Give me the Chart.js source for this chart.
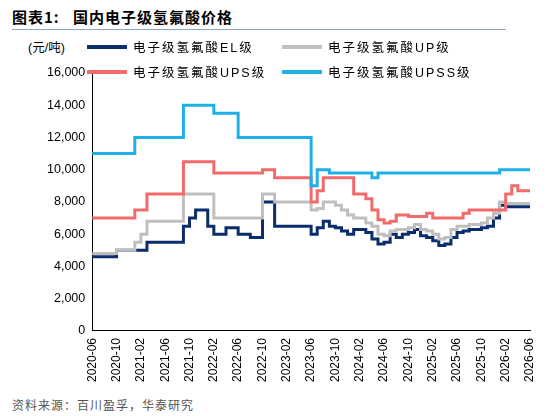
<!DOCTYPE html>
<html><head><meta charset="utf-8">
<script src="https://cdn.jsdelivr.net/npm/chart.js@4"></script>
<style>
body{margin:0;width:550px;height:416px;position:relative;background:#fff;font-family:"Liberation Sans","Noto Sans CJK SC",sans-serif;overflow:hidden}
#wrap{position:absolute;left:0;top:0;width:550px;height:385px}
.t{position:absolute;white-space:nowrap;color:#000}
.leg{position:absolute;font-size:12.5px;letter-spacing:2px;white-space:nowrap;display:flex;align-items:center;font-family:"Liberation Sans","Noto Sans CJK SC",sans-serif}
.leg i{display:inline-block;width:40px;height:4px;margin-right:6px}
</style></head><body>
<div class="t" style="left:12px;top:6px;font-size:15px;font-weight:bold;letter-spacing:1px;font-family:'Noto Sans CJK SC',sans-serif">图表1:&nbsp;&nbsp;&nbsp;国内电子级氢氟酸价格</div>
<div style="position:absolute;left:12px;top:29px;width:494px;height:1px;background:#8fa4bd"></div>
<div class="t" style="left:28px;top:37px;font-size:12.5px">(元/吨)</div>
<div id="wrap"><canvas id="c" width="550" height="385"></canvas></div>
<div class="leg" style="left:87px;top:37px"><i style="background:#0b2d6b"></i>电子级氢氟酸EL级</div>
<div class="leg" style="left:282px;top:37px"><i style="background:#bfbfbf"></i>电子级氢氟酸UP级</div>
<div class="leg" style="left:87px;top:62px"><i style="background:#f26b6b"></i>电子级氢氟酸UPS级</div>
<div class="leg" style="left:282px;top:62px"><i style="background:#1fb0e8"></i>电子级氢氟酸UPSS级</div>
<div class="t" style="left:12px;top:396px;font-size:12px;color:#555;letter-spacing:1px;font-family:'Noto Sans CJK SC',sans-serif">资料来源：百川盈孚，华泰研究</div>
<script>
const months=[];for(let y=2020,m=6;months.length<73;){months.push(y+'-'+String(m).padStart(2,'0'));m++;if(m>12){m=1;y++;}}
const rep=(v,n)=>Array(n).fill(v);
const EL=[...rep(4600,4),...rep(5000,5),...rep(5500,6),6500,7000,7500,7500,6500,6000,6000,6400,6400,6000,6000,5800,5800,8000,8000,...rep(6500,6),
6000,6400,6800,6500,6400,6200,6000,6300,6300,6100,5700,5400,5500,6000,5800,6000,6100,6300,5900,5800,5600,5300,5400,5800,6100,6200,6300,6300,6400,6500,7000,7800,...rep(7700,5)];
const UP=[...rep(4800,4),...rep(5000,3),5500,6000,...rep(6800,6),...rep(8500,5),...rep(7000,8),8500,8500,...rep(8000,6),
7500,7600,8000,8000,7800,7500,7200,7000,7000,6700,6500,6000,5900,6200,6300,6300,6400,6600,6300,6200,6000,5700,5800,6300,6500,6500,6600,6600,6700,7000,7300,8000,...rep(7900,5)];
const UPS=[...rep(7000,7),7500,7500,...rep(8500,6),...rep(10500,5),...rep(9800,8),10000,10000,...rep(9500,6),8000,8700,...rep(9500,5),8500,8500,8200,7500,6900,6700,6800,7200,7200,7100,7100,7100,7300,7000,7000,7000,7000,7000,7300,7500,...rep(7500,5),8500,9000,8700,8700,8700];
const UPSS=[...rep(11000,7),...rep(12000,8),...rep(14000,5),...rep(13500,4),...rep(12000,12),9000,10000,10000,...rep(9800,7),9500,...rep(9800,20),...rep(10000,6)];
const yTicks=[0,2000,4000,6000,8000,10000,12000,14000,16000];
const ds=(d,c)=>({data:d,borderColor:c,borderWidth:3,pointRadius:0,stepped:true,fill:false});
new Chart(document.getElementById('c'),{type:'line',
data:{labels:months,datasets:[ds(UPSS,'#1fb0e8'),ds(UPS,'#f26b6b'),ds(UP,'#bfbfbf'),ds(EL,'#0b2d6b')]},
options:{responsive:false,animation:false,layout:{padding:{top:73,right:20,left:44,bottom:0}},
plugins:{legend:{display:false},tooltip:{enabled:false}},
scales:{x:{offset:false,grid:{display:false,drawTicks:true,tickLength:4},border:{color:'#000'},
ticks:{autoSkip:false,maxRotation:90,minRotation:90,color:'#000',font:{family:'Liberation Sans',size:12},callback:(v,i)=>i%4===0?months[i]:''}},
y:{min:0,max:16000,afterBuildTicks:a=>{a.ticks=yTicks.map(v=>({value:v}))},grid:{display:false,tickLength:4},border:{color:'#000'},
ticks:{color:'#000',font:{family:'Liberation Sans',size:12.5},callback:v=>v.toLocaleString('en-US')}}}}});
</script></body></html>
